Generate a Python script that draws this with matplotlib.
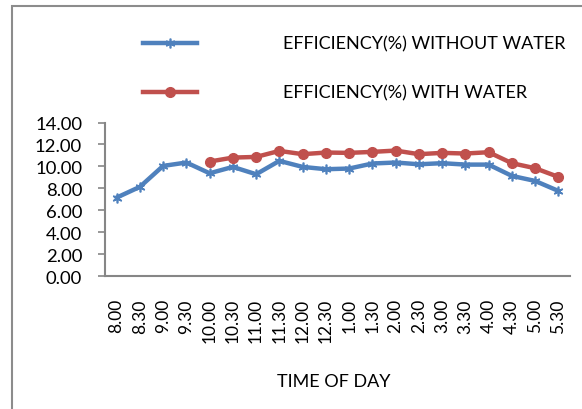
import numpy as np
import matplotlib.pyplot as plt
from matplotlib.patches import Rectangle

plt.rcParams['font.family'] = ['Lato', 'DejaVu Sans']

times = ["8.00", "8.30", "9.00", "9.30", "10.00", "10.30", "11.00", "11.30",
         "12.00", "12.30", "1.00", "1.30", "2.00", "2.30", "3.00", "3.30",
         "4.00", "4.30", "5.00", "5.30"]
eff_without = [7.15, 8.13, 10.04, 10.35, 9.37, 9.95, 9.28, 10.50, 9.95, 9.74,
               9.80, 10.26, 10.35, 10.19, 10.29, 10.16, 10.16, 9.13, 8.67, 7.76]
# with water starts at 10.00
eff_with = [np.nan] * 4 + [10.44, 10.80, 10.86, 11.41, 11.11, 11.26, 11.23,
                           11.32, 11.44, 11.11, 11.23, 11.17, 11.29, 10.29,
                           9.83, 9.04]
yticks = np.arange(0, 14.01, 2)

blue = '#4F81BD'
red = '#C0504D'
gray = '#868686'

fig = plt.figure(figsize=(5.82, 4.10), dpi=100)
fig.patches.append(Rectangle((12 / 582, -0.1), 1.2, 1 - 7 / 410 + 0.1,
                             transform=fig.transFigure, fill=False,
                             edgecolor='#8c8c8c', lw=1.5))
ax = fig.add_axes([105 / 582, 1 - 277 / 410, 465 / 582, 153.5 / 410])

x = np.arange(len(times))
l1, = ax.plot(x, eff_without, color=blue, lw=3.2, marker=(6, 2, 0),
              markersize=7, markeredgewidth=1.2, markeredgecolor=blue)
l2, = ax.plot(x, eff_with, color=red, lw=3.2, marker='o', markersize=7,
              markeredgecolor=red)

ax.set_xlim(-0.5, len(times) - 0.5)
ax.set_ylim(0, 14)
ax.set_yticks(yticks)
ax.set_yticklabels(['%.2f' % v for v in yticks], fontsize=13.3)
ax.set_xticks(x)
ax.set_xticklabels(times, rotation=90, fontsize=12.5)
ax.tick_params(axis='x', length=0, pad=16)
ax.tick_params(axis='y', length=5, width=1.2, color=gray, pad=11.5)
for s in ['top', 'right']:
    ax.spines[s].set_visible(False)
for s in ['left', 'bottom']:
    ax.spines[s].set_color(gray)
    ax.spines[s].set_linewidth(1.5)

fig.text(334 / 582, 1 - 382 / 410, 'TIME OF DAY', ha='center', va='center',
         fontsize=13)

# legend drawn by hand to match layout
for y, line, lab in [(44, l1, 'EFFICIENCY(%) WITHOUT WATER'),
                     (93, l2, 'EFFICIENCY(%) WITH WATER')]:
    yy = 1 - y / 410
    fig.lines.append(plt.Line2D([143 / 582, 197 / 582], [yy, yy],
                                transform=fig.transFigure,
                                color=line.get_color(), lw=3.2))
    fig.lines.append(plt.Line2D([170 / 582], [yy], transform=fig.transFigure,
                                color=line.get_color(),
                                marker=line.get_marker(), markersize=7,
                                markeredgewidth=line.get_markeredgewidth(),
                                markeredgecolor=line.get_color()))
    fig.text(283 / 582, yy, lab, ha='left', va='center', fontsize=13)

fig.savefig('out.png', dpi=100)
